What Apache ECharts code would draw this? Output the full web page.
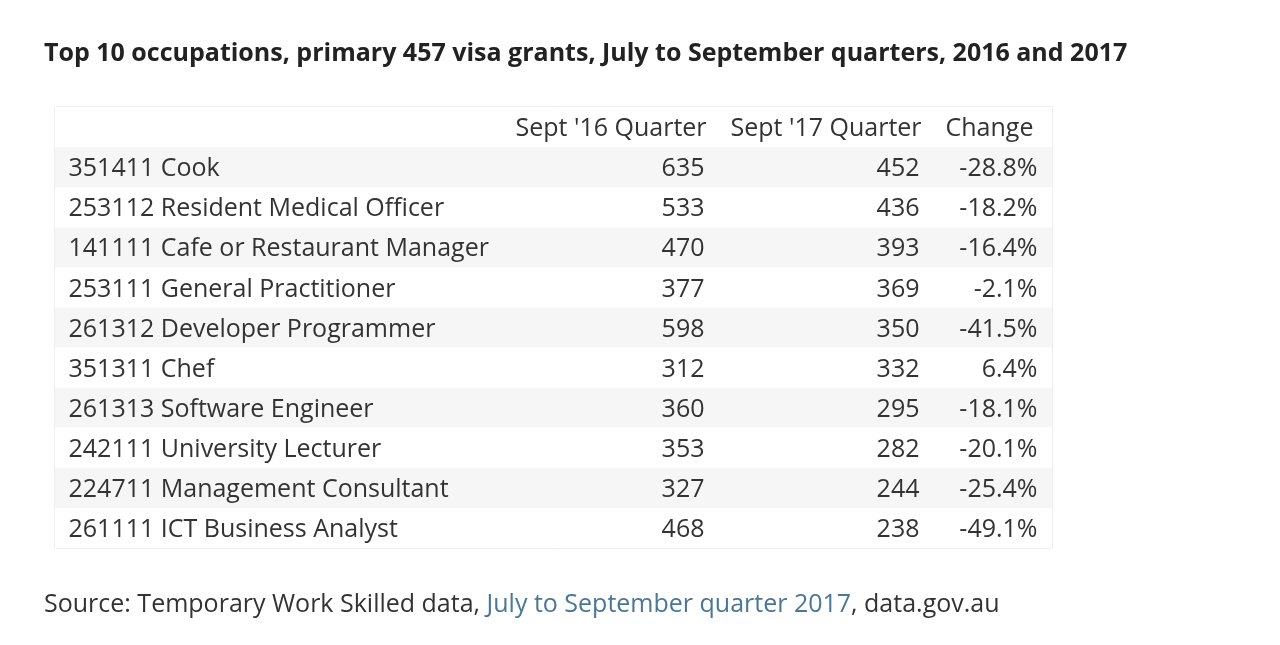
<!DOCTYPE html>
<html>
<head>
<meta charset="utf-8">
<script src="https://cdn.jsdelivr.net/npm/echarts@6/dist/echarts.min.js"></script>
<style>
  html, body { margin: 0; padding: 0; background: #fff; }
  #chart { width: 1280px; height: 645px; }
</style>
</head>
<body>
<div id="chart"></div>
<script>
(function () {
  'use strict';

  // table contents
  const occupations = [
    '351411 Cook',
    '253112 Resident Medical Officer',
    '141111 Cafe or Restaurant Manager',
    '253111 General Practitioner',
    '261312 Developer Programmer',
    '351311 Chef',
    '261313 Software Engineer',
    '242111 University Lecturer',
    '224711 Management Consultant',
    '261111 ICT Business Analyst'
  ];
  const sept16 = [635, 533, 470, 377, 598, 312, 360, 353, 327, 468];
  const sept17 = [452, 436, 393, 369, 350, 332, 295, 282, 244, 238];
  const changePct = ['-28.8%', '-18.2%', '-16.4%', '-2.1%', '-41.5%', '6.4%', '-18.1%', '-20.1%', '-25.4%', '-49.1%'];
  const headers = ["Sept '16 Quarter", "Sept '17 Quarter", 'Change'];

  const FONT = '"Open Sans", "Noto Sans", sans-serif';
  const TEXT = '#333333';
  const SIZE = 25;

  // x anchors in table pixels (grid x axis runs 0..997)
  const nameLeft = 13;
  const valueRight = [650, 865, 983];
  const headerLeft = [460, 675, 890];

  const rowLabels = [''].concat(occupations);

  function labelSeries(points, position) {
    return {
      type: 'scatter',
      symbolSize: 1,
      itemStyle: { color: 'rgba(255,255,255,0)', opacity: 1 },
      silent: true,
      data: points,
      label: {
        show: true,
        position: position,
        distance: 0,
        offset: [0, 2],
        opacity: 1,
        textBorderWidth: 0,
        formatter: p => p.value[2],
        color: TEXT,
        fontFamily: FONT,
        fontSize: SIZE
      }
    };
  }

  function columnSeries(values, x, position) {
    return labelSeries(values.map((v, i) => [x, i + 1, String(v)]), position || 'left');
  }

  const chart = echarts.init(document.getElementById('chart'));
  chart.setOption({
    backgroundColor: '#ffffff',
    animation: false,
    title: [
      {
        text: 'Top 10 occupations, primary 457 visa grants, July to September quarters, 2016 and 2017',
        left: 39,
        top: 36,
        textStyle: { fontFamily: FONT, fontSize: 25, fontWeight: 'bold', color: '#222222' }
      },
      {
        text: '{a|Source: Temporary Work Skilled data, }{b|July to September quarter 2017}{a|, data.gov.au}',
        left: 39,
        top: 587,
        textStyle: {
          rich: {
            a: { fontFamily: FONT, fontSize: SIZE, fontWeight: 'normal', color: TEXT },
            b: { fontFamily: FONT, fontSize: SIZE, fontWeight: 'normal', color: '#4a7796' }
          }
        }
      }
    ],
    grid: {
      left: 55,
      right: 228,
      top: 107,
      bottom: 97,
      show: true,
      borderColor: '#dedede',
      borderWidth: 1,
      backgroundColor: 'transparent'
    },
    xAxis: {
      type: 'value',
      min: 0,
      max: 997,
      show: false
    },
    yAxis: {
      type: 'category',
      inverse: true,
      data: rowLabels,
      axisLine: { show: false },
      axisTick: { show: false },
      splitLine: { show: false },
      axisLabel: { show: false },
      splitArea: { show: true, areaStyle: { color: ['#ffffff', '#f6f6f6'] } }
    },
    series: [
      labelSeries(headers.map((h, i) => [headerLeft[i], 0, h]), 'right'),
      columnSeries(occupations, nameLeft, 'right'),
      columnSeries(sept16, valueRight[0]),
      columnSeries(sept17, valueRight[1]),
      columnSeries(changePct, valueRight[2])
    ]
  });
})();
</script>
</body>
</html>
